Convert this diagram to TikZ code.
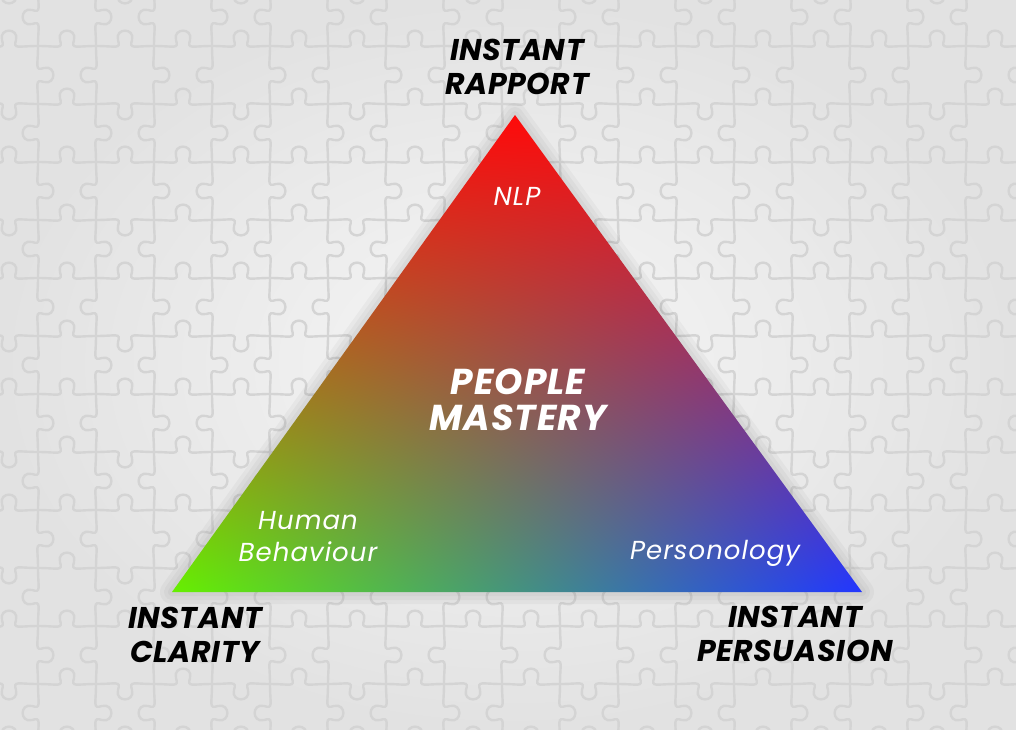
\documentclass[tikz,border=0pt]{standalone}
\usepackage{fontspec}
\setmainfont{Poppins}
\usetikzlibrary{positioning,shadings}

\definecolor{tipred}{HTML}{FF0A0A}
\definecolor{tipgreen}{HTML}{66F000}
\definecolor{tipblue}{HTML}{2236FF}
\definecolor{bgedge}{HTML}{E2E2E2}
\definecolor{bgmid}{HTML}{F7F7F7}
\definecolor{piecegrey}{HTML}{D4D4D4}

\tikzset{
  corner label/.style={font=\fontsize{30}{34}\selectfont\bfseries\itshape\addfontfeature{LetterSpace=2}, align=center, text=black, inner sep=0pt},
  inner label/.style={font=\fontsize{26}{32}\selectfont\itshape\addfontfeature{LetterSpace=4}, text=white, align=center, inner sep=0pt},
  centre label/.style={font=\fontsize{36}{36}\selectfont\bfseries\itshape\addfontfeature{LetterSpace=3}, text=white, align=center, inner sep=0pt},
  piece edge/.style={piecegrey, line width=2.4pt, line cap=round},
  puzzle tab/.pic={
    \draw[piece edge] (0,0) .. controls (0.35,0) and (0.43,-0.06) .. (0.38,0.1)
      .. controls (0.32,0.32) and (0.68,0.32) .. (0.62,0.1)
      .. controls (0.57,-0.06) and (0.65,0) .. (1,0);
  },
}

\begin{document}
\begin{tikzpicture}[x=1pt,y=-1pt]
  \useasboundingbox (0,0) rectangle (1016,729);
  % background
  \shade[inner color=bgmid, outer color=bgedge] (0,0) rectangle (1016,729);
  \begin{scope}
    \clip (0,0) rectangle (1016,729);
    \foreach \r in {0,...,13}{
      \foreach \c in {0,...,18}{
        \pgfmathsetmacro\sgn{ifthenelse(mod(\r*3+\c*\c+\r*\c,2)==0,1,-1)}
        \pgfmathsetmacro\sgv{ifthenelse(mod(\r*\r+\c*5+1,2)==0,1,-1)}
        \pic[xscale=58, yscale=58*\sgn] at (-20+\c*58, -12+\r*58) {puzzle tab};
        \pic[rotate=-90, xscale=58, yscale=58*\sgv] at (-20+\c*58, -12+\r*58) {puzzle tab};
      }
    }
  \end{scope}

  % triangle
  \coordinate (apex) at (515,115);
  \coordinate (baseL) at (172,592);
  \coordinate (baseR) at (862,592);
  \foreach \w in {24,16,8}
    \draw[black, opacity=0.03, line width=\w pt, line join=round] (apex) -- (baseL) -- (baseR) -- cycle;
  \shade[upper left=tipred, upper right=tipred, lower left=tipgreen, lower right=tipblue]
    (apex) -- (baseL) -- (baseR) -- cycle;

  % labels
  \node[corner label] (rapport) at (517,67) {INSTANT\\RAPPORT};
  \node[corner label] (clarity) at (195,635) {INSTANT\\CLARITY};
  \node[corner label] (persuasion) at (795,634) {INSTANT\\PERSUASION};
  \node[inner label] (nlp) at (517,196) {NLP};
  \node[centre label] (mastery) at (518,400) {PEOPLE\\MASTERY};
  \node[inner label] (behaviour) at (308,537) {Human\\Behaviour};
  \node[inner label] (personology) at (715,553) {Personology};
\end{tikzpicture}
\end{document}
